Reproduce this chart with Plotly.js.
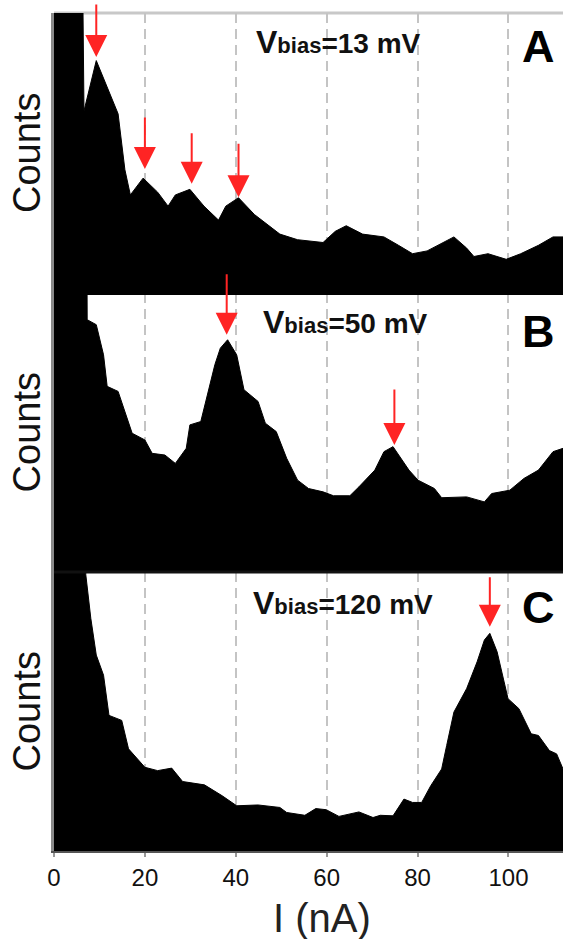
<!DOCTYPE html>
<html>
<head>
<meta charset="utf-8">
<script src="https://cdn.plot.ly/plotly-3.0.1.min.js"></script>
<style>html,body{margin:0;padding:0;background:#fff;}#chart{width:564px;height:939px;}</style>
</head>
<body>
<div id="chart"></div>
<script>
// Panel A (Vbias = 13 mV)
const currentA = [0, 6.2, 6.6, 9.3, 14.1, 15.6, 16.8, 19.6, 22.8, 25.1, 26.7, 29.9, 33.0, 36.2, 37.8, 40.6, 44.1, 49.7, 53.6, 59.2, 61.9, 64.3, 67.9, 72.6, 75.8, 78.9, 82.1, 88.0, 90.8, 92.4, 95.5, 99.5, 102.7, 106.6, 109.8, 112];
const countsA  = [130, 130, 65, 83, 64, 44, 35, 41, 36, 31, 35, 37, 31, 26, 31, 34, 28, 21, 19, 18, 22, 24, 21, 20, 17, 14, 15, 20, 16, 13, 14, 12, 14, 17, 20, 20];
// Panel B (Vbias = 50 mV)
const currentB = [0, 7.2, 7.3, 9.3, 10.9, 11.7, 14.1, 15.6, 17.2, 20, 21.6, 24.4, 26.7, 29.1, 29.9, 32.3, 33.8, 35.4, 36.6, 38.2, 40.2, 41.8, 44.9, 46.5, 48.9, 51.2, 53.6, 56, 59.2, 61.5, 65.1, 67.1, 70.6, 72.6, 74.6, 78.1, 80.1, 83.7, 85.3, 90.8, 94.7, 96.3, 100.3, 103.4, 106.6, 109.8, 112];
const countsB  = [130, 130, 90.4, 88.6, 77.8, 66.5, 64.7, 57.5, 49.7, 47.3, 42.5, 41.9, 38.9, 44.3, 52.7, 53.9, 63.5, 74.3, 80.2, 83.2, 77.8, 65.3, 61.1, 53.3, 50.3, 40.7, 32.9, 29.9, 28.7, 27.3, 27.3, 30.5, 36.5, 43.1, 44.9, 36.5, 32.9, 29.9, 26.6, 26.9, 25.1, 28.1, 29.3, 33.5, 36.5, 43.1, 44.3];
// Panel C (Vbias = 120 mV)
const currentC = [0, 6.9, 7, 8.1, 9.3, 10.9, 12.1, 14.9, 16.4, 20, 22.8, 25.9, 28.3, 33.1, 37, 40.2, 44.9, 49.7, 51.2, 55.2, 57.6, 59.9, 62.7, 67.1, 70.2, 71.8, 74.6, 77, 78.9, 80.9, 82.9, 85.3, 86.4, 88, 90.8, 93.1, 94.7, 95.9, 97.5, 99.9, 102.3, 105, 106.6, 109, 110.6, 112];
const countsC  = [130, 130, 99, 83.4, 70.2, 63, 48.6, 46.8, 36.6, 30, 28.8, 29.7, 24.9, 23.7, 19.8, 16.2, 16.5, 15.6, 13.8, 12.8, 15.2, 14.8, 12.4, 14, 12, 12.8, 12.6, 18.6, 17.4, 17.4, 23.4, 29.4, 37.8, 49.8, 58.2, 67.8, 75.6, 78, 71.4, 54.6, 51, 42, 41.4, 36, 34.8, 29.4];

// Marked peaks (arrow tips)
const peaksA_x = [9.3, 20, 30.3, 40.6];
const peaksA_y = [84.3, 44.3, 39, 34.2];
const peaksB_x = [38, 74.9];
const peaksB_y = [85, 45.5];
const peaksC_x = [95.9];
const peaksC_y = [80.4];

const panelLabels = ['A', 'B', 'C'];
const biasLabels = ['13 mV', '50 mV', '120 mV'];
const xTicks = [0, 20, 40, 60, 80, 100];

const FONT = 'Liberation Sans, Arial, Helvetica, sans-serif';

function areaTrace(x, y, xa, ya) {
  return {x: x, y: y, xaxis: xa, yaxis: ya, type: 'scatter', mode: 'lines',
    fill: 'tozeroy', fillcolor: '#000', line: {color: '#000', width: 1}, hoverinfo: 'skip', showlegend: false};
}
const data = [
  areaTrace(currentA, countsA, 'x3', 'y3'),
  areaTrace(currentB, countsB, 'x2', 'y2'),
  areaTrace(currentC, countsC, 'x', 'y')
];

const annotations = [];
function addArrows(xs, ys, xr, yr, len) {
  xs.forEach((xv, i) => {
    annotations.push({x: xv, y: ys[i], xref: xr, yref: yr, text: '', showarrow: true,
      ax: 0, ay: -len[i], arrowhead: 2, arrowsize: 2.2, arrowwidth: 2, arrowcolor: '#ff2424', standoff: 0});
  });
}
addArrows(peaksA_x, peaksA_y, 'x3', 'y3', [54, 53, 52, 55]);
addArrows(peaksB_x, peaksB_y, 'x2', 'y2', [62, 57]);
addArrows(peaksC_x, peaksC_y, 'x', 'y', [51]);

const ydoms = ['y3', 'y2', 'y'];
const textX = [0.393, 0.406, 0.387];
const textY = [0.896, 0.896, 0.888];
const letY = [0.882, 0.86, 0.874];
for (let i = 0; i < 3; i++) {
  annotations.push({xref: 'paper', yref: ydoms[i] + ' domain', x: textX[i], y: textY[i], xanchor: 'left', yanchor: 'middle',
    text: '<span style="font-size:32px">V</span><span style="font-size:22px">bias</span>=' + biasLabels[i],
    showarrow: false, font: {family: FONT, size: 28, color: '#111', weight: 'bold'}});
  annotations.push({xref: 'paper', yref: ydoms[i] + ' domain', x: 0.951, y: letY[i], xanchor: 'center', yanchor: 'middle',
    text: panelLabels[i], showarrow: false, font: {family: FONT, size: 45, color: '#000', weight: 'bold'}});
  annotations.push({xref: 'paper', yref: ydoms[i] + ' domain', x: -0.053, y: 0.5, xanchor: 'center', yanchor: 'middle',
    text: 'Counts', textangle: -90, showarrow: false, font: {family: FONT, size: 38, color: '#111'}});
}
annotations.push({xref: 'paper', yref: 'paper', x: 0.527, y: -0.08, xanchor: 'center', yanchor: 'middle',
  text: 'I (nA)', showarrow: false, font: {family: FONT, size: 40, color: '#222'}});

const gridCommon = {range: [0, 112], showgrid: true, gridcolor: '#c4c4c4', gridwidth: 2, griddash: '10px,6px',
  zeroline: false, tickvals: xTicks, fixedrange: true};
const yCommon = {range: [0, 100], showticklabels: false, ticks: '', showgrid: false, zeroline: false,
  showline: true, linecolor: '#8a8a8a', linewidth: 3, fixedrange: true};

const layout = {
  width: 564, height: 939,
  margin: {l: 54, r: 1, t: 13, b: 88},
  paper_bgcolor: '#fff', plot_bgcolor: '#fff',
  font: {family: FONT, color: '#111'},
  showlegend: false,
  xaxis: Object.assign({}, gridCommon, {anchor: 'y', ticks: 'outside', ticklen: 4, tickwidth: 2, tickcolor: '#999',
    showline: true, linecolor: '#555', linewidth: 2, ticklabelstandoff: 0,
    tickfont: {family: FONT, size: 24, color: '#111'}}),
  xaxis2: Object.assign({}, gridCommon, {anchor: 'y2', showticklabels: false, ticks: '', showline: false}),
  xaxis3: Object.assign({}, gridCommon, {anchor: 'y3', showticklabels: false, ticks: '', showline: false}),
  yaxis: Object.assign({}, yCommon, {anchor: 'x', domain: [0, 0.333]}),
  yaxis2: Object.assign({}, yCommon, {anchor: 'x2', domain: [0.333, 0.666]}),
  yaxis3: Object.assign({}, yCommon, {anchor: 'x3', domain: [0.666, 1]}),
  shapes: [
    {type: 'line', xref: 'paper', yref: 'paper', x0: 0, x1: 1, y0: 1, y1: 1, line: {color: '#c8c8c8', width: 3}, layer: 'below'},
    {type: 'line', xref: 'paper', yref: 'paper', x0: 0, x1: 1, y0: 0.666, y1: 0.666, line: {color: '#000', width: 4}},
    {type: 'line', xref: 'paper', yref: 'paper', x0: 0, x1: 1, y0: 0.333, y1: 0.333, line: {color: '#111', width: 3}}
  ],
  annotations: annotations
};

Plotly.newPlot('chart', data, layout, {displayModeBar: false, staticPlot: true});
</script>
</body>
</html>
